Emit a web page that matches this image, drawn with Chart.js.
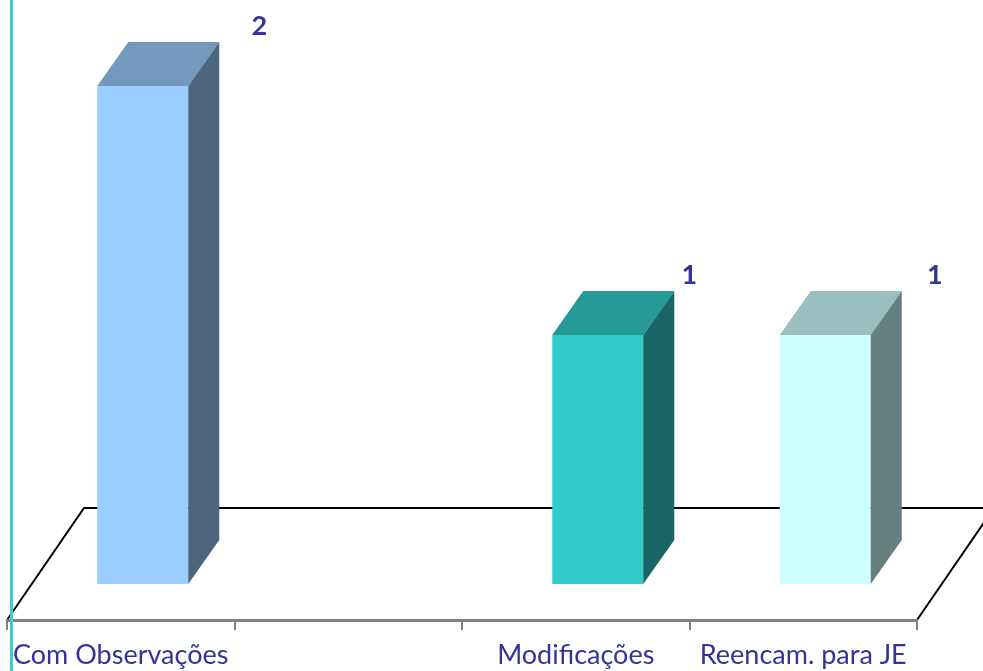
<!DOCTYPE html>
<html lang="pt">
<head>
<meta charset="utf-8">
<title>Pareceres</title>
<script src="https://cdn.jsdelivr.net/npm/chart.js@4.4.1/dist/chart.umd.min.js"></script>
<style>
  html, body { margin: 0; padding: 0; background: #ffffff; }
  canvas { display: block; }
</style>
</head>
<body>
<canvas id="myChart" width="983" height="671"></canvas>
<script>
// Categories and counts
const categories = ["Com Observações", "", "Modificações", "Reencam. para JE"];
const counts = [2, null, 1, 1];

// Front face colours; top and side faces are darker shades of these
const frontColors = ["#99ccff", "#99ccff", "#33cccc", "#ccffff"];
const topColors   = ["#7399bf", "#7399bf", "#269999", "#99bfbf"];
const sideColors  = ["#4c6680", "#4c6680", "#1a6666", "#668080"];

// 3D geometry
const barDepth = { x: 31, y: -44 };
const floorDepth = { x: 77, y: -112 };
const barShift = { x: 22, y: -36 };
const labelNudge = [40, 0, 15, 33];

const labelColor = "#333399";

// Floor, bar depth faces and value labels
const threeD = {
    id: 'threeD',
    beforeDraw(chart) {
        const { ctx, chartArea } = chart;
        const l = chartArea.left, r = chartArea.right, b = chartArea.bottom;
        ctx.save();
        ctx.strokeStyle = '#000000';
        ctx.lineWidth = 2;
        ctx.beginPath();
        ctx.moveTo(l, b);
        ctx.lineTo(l + floorDepth.x, b + floorDepth.y);
        ctx.lineTo(r + floorDepth.x, b + floorDepth.y);
        ctx.lineTo(r, b);
        ctx.stroke();
        ctx.restore();
    },
    beforeDatasetsDraw(chart) {
        chart.ctx.save();
        chart.ctx.translate(barShift.x, barShift.y);
    },
    afterDatasetsDraw(chart) {
        const { ctx } = chart;
        const meta = chart.getDatasetMeta(0);
        meta.data.forEach((bar, i) => {
            if (counts[i] === null) return;
            const p = bar.getProps(['x', 'y', 'base', 'width'], true);
            const x0 = p.x - p.width / 2, x1 = p.x + p.width / 2;
            const dx = barDepth.x, dy = barDepth.y;
            // top face
            ctx.fillStyle = topColors[i];
            ctx.beginPath();
            ctx.moveTo(x0, p.y);
            ctx.lineTo(x0 + dx, p.y + dy);
            ctx.lineTo(x1 + dx, p.y + dy);
            ctx.lineTo(x1, p.y);
            ctx.closePath();
            ctx.fill();
            // side face
            ctx.fillStyle = sideColors[i];
            ctx.beginPath();
            ctx.moveTo(x1, p.y);
            ctx.lineTo(x1 + dx, p.y + dy);
            ctx.lineTo(x1 + dx, p.base + dy);
            ctx.lineTo(x1, p.base);
            ctx.closePath();
            ctx.fill();
            // value label
            ctx.fillStyle = labelColor;
            ctx.font = 'bold 27px Lato';
            ctx.textAlign = 'center';
            ctx.textBaseline = 'middle';
            ctx.fillText(String(counts[i]), x1 + dx + labelNudge[i], p.y + dy - 16);
        });
        ctx.restore();
    },
    afterDraw(chart) {
        const { ctx } = chart;
        ctx.save();
        ctx.strokeStyle = '#3ccfcf';
        ctx.lineWidth = 3;
        ctx.beginPath();
        ctx.moveTo(11.5, 0);
        ctx.lineTo(11.5, chart.height);
        ctx.stroke();
        ctx.restore();
    }
};

const chartX = document.getElementById('myChart').getContext('2d');
const chart = new Chart(chartX, {
    type: 'bar',
    data: {
        labels: categories,
        datasets: [{
            data: counts,
            backgroundColor: frontColors,
            borderWidth: 0,
            barPercentage: 0.4,
            categoryPercentage: 1.0,
            clip: false
        }]
    },
    options: {
        responsive: false,
        animation: false,
        layout: { padding: { left: 7, right: 66, top: 0, bottom: 0 } },
        plugins: {
            legend: { display: false },
            tooltip: { enabled: false }
        },
        scales: {
            x: {
                afterFit: (scale) => { scale.height = 51; },
                border: { color: '#808080', width: 3 },
                grid: {
                    offset: true,
                    drawOnChartArea: false,
                    color: '#808080',
                    lineWidth: 2,
                    tickLength: 10
                },
                ticks: {
                    autoSkip: false,
                    maxRotation: 0,
                    color: labelColor,
                    padding: 9,
                    font: { family: 'Lato', size: 27 }
                }
            },
            y: {
                display: false,
                min: 0,
                max: 2.49
            }
        }
    },
    plugins: [threeD]
});
</script>
</body>
</html>
